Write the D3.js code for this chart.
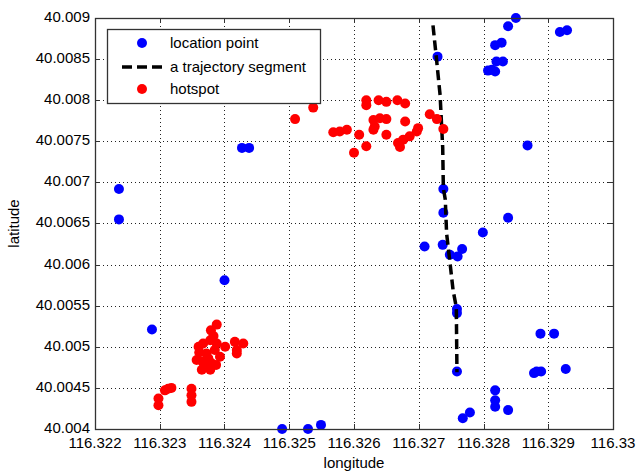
<!DOCTYPE html>
<html>
<head>
<meta charset="utf-8">
<script src="https://cdn.jsdelivr.net/npm/d3@7"></script>
<style>
  body { margin: 0; background: #fff; }
  svg { display: block; font-family: "Liberation Sans", Arial, sans-serif; }
  .tick-label { font-size: 15px; fill: #000; }
  .legend-text { font-size: 15px; fill: #000; }
</style>
</head>
<body>
<div id="container"><svg></svg></div>
<script>
const SVG_WIDTH = 638;
const SVG_HEIGHT = 471;
const margin = {left: 95, top: 18, right: 25, bottom: 42};

const x_ticks = [116.322, 116.323, 116.324, 116.325, 116.326, 116.327, 116.328, 116.329, 116.33];
const y_ticks = [40.004, 40.0045, 40.005, 40.0055, 40.006, 40.0065, 40.007, 40.0075, 40.008, 40.0085, 40.009];

// location points [longitude, latitude]
const location_points = [
    [116.32237, 40.00692], [116.32237, 40.00655], [116.32427, 40.00742], [116.32438, 40.00742],
    [116.324, 40.00581], [116.32288, 40.00521], [116.32489, 40.004], [116.32529, 40.004],
    [116.32549, 40.00405], [116.32768, 40.00413], [116.32779, 40.0042], [116.32818, 40.00447],
    [116.32818, 40.00435], [116.32818, 40.00427], [116.32838, 40.00423], [116.32878, 40.00468],
    [116.32882, 40.0047], [116.32889, 40.0047], [116.32927, 40.00473], [116.32888, 40.00516],
    [116.32909, 40.00516], [116.32759, 40.0047], [116.32759, 40.00546], [116.32759, 40.00541],
    [116.32767, 40.00619], [116.32709, 40.00622], [116.32737, 40.00624], [116.32748, 40.00612],
    [116.3276, 40.0061], [116.32799, 40.00639], [116.32738, 40.00692], [116.32738, 40.00663],
    [116.32838, 40.00657], [116.32868, 40.00745], [116.32729, 40.00853], [116.3285, 40.009],
    [116.32838, 40.0089], [116.32818, 40.00867], [116.32828, 40.0087], [116.3282, 40.00847],
    [116.3283, 40.00847], [116.32813, 40.00837], [116.32818, 40.00835], [116.32807, 40.00836],
    [116.32918, 40.00883], [116.32929, 40.00885]
];

// trajectory segment [longitude, latitude]
const trajectory = [
    [116.32722, 40.00891], [116.32727, 40.00853], [116.32733, 40.00806], [116.32737, 40.00742],
    [116.32738, 40.00693], [116.32741, 40.00679], [116.32743, 40.00638], [116.32749, 40.00597],
    [116.32753, 40.00569], [116.32758, 40.00548], [116.32759, 40.00469]
];

// hotspot points [longitude, latitude]
const hotspots = [
    [116.32388, 40.00527], [116.32379, 40.0052], [116.3236, 40.005], [116.32367, 40.00504],
    [116.32378, 40.00508], [116.32388, 40.00504], [116.32401, 40.005], [116.32357, 40.00484],
    [116.3237, 40.00476], [116.3238, 40.0048], [116.32393, 40.00488], [116.32385, 40.00496],
    [116.32372, 40.00492], [116.32365, 40.00472], [116.32378, 40.00472], [116.32361, 40.00493],
    [116.32383, 40.00513], [116.32375, 40.00486], [116.32387, 40.00478], [116.32366, 40.00482],
    [116.32416, 40.00506], [116.32429, 40.00504], [116.32419, 40.00496], [116.32419, 40.00492],
    [116.32298, 40.00429], [116.32298, 40.00437], [116.32308, 40.00447], [116.32313, 40.00449],
    [116.32318, 40.0045], [116.32349, 40.00449], [116.32349, 40.00441], [116.32349, 40.00433],
    [116.32509, 40.00777], [116.32537, 40.00791], [116.32568, 40.00761], [116.32578, 40.00762],
    [116.32589, 40.00764], [116.32608, 40.00758], [116.326, 40.00736], [116.32619, 40.00744],
    [116.32619, 40.008], [116.32619, 40.00794], [116.32638, 40.008], [116.3265, 40.00798],
    [116.32667, 40.008], [116.32679, 40.00796], [116.3263, 40.00776], [116.3264, 40.00778],
    [116.3265, 40.00777], [116.32632, 40.00768], [116.3263, 40.00764], [116.3265, 40.00758],
    [116.32679, 40.00774], [116.32668, 40.00748], [116.32676, 40.00752], [116.32686, 40.00756],
    [116.32697, 40.00762], [116.32699, 40.00766], [116.32671, 40.00743], [116.32717, 40.00783],
    [116.32728, 40.00777], [116.32738, 40.00765]
];

const legend_items = ['location point', 'a trajectory segment', 'hotspot'];

const BLUE = '#0000ff';
const RED = '#ff0000';
const POINT_R = 5;

function draw_chart() {
    let svg = d3.select('#container').select('svg')
        .attr('width', SVG_WIDTH)
        .attr('height', SVG_HEIGHT);

    let x = d3.scaleLinear()
        .domain([116.322, 116.33])
        .range([margin.left, SVG_WIDTH - margin.right]);
    let y = d3.scaleLinear()
        .domain([40.004, 40.009])
        .range([SVG_HEIGHT - margin.bottom, margin.top]);

    let x0 = x.range()[0], x1 = x.range()[1];
    let y0 = y.range()[0], y1 = y.range()[1];

    // dotted grid
    let grid = svg.append('g').attr('id', 'grid')
        .attr('stroke', '#222')
        .attr('stroke-width', 1)
        .attr('stroke-dasharray', '1,3');
    grid.selectAll('.vgrid').data(x_ticks.slice(1, -1)).enter()
        .append('line')
        .attr('x1', d => Math.round(x(d)) + 0.5).attr('x2', d => Math.round(x(d)) + 0.5)
        .attr('y1', y1).attr('y2', y0);
    grid.selectAll('.hgrid').data(y_ticks.slice(1, -1)).enter()
        .append('line')
        .attr('y1', d => Math.round(y(d)) + 0.5).attr('y2', d => Math.round(y(d)) + 0.5)
        .attr('x1', x0).attr('x2', x1);

    // tick marks on all four sides, pointing inward
    let ticks = svg.append('g').attr('stroke', '#333').attr('stroke-width', 1);
    x_ticks.forEach(d => {
        let px = Math.round(x(d)) + 0.5;
        ticks.append('line').attr('x1', px).attr('x2', px).attr('y1', y0).attr('y2', y0 - 5);
        ticks.append('line').attr('x1', px).attr('x2', px).attr('y1', y1).attr('y2', y1 + 5);
    });
    y_ticks.forEach(d => {
        let py = Math.round(y(d)) + 0.5;
        ticks.append('line').attr('y1', py).attr('y2', py).attr('x1', x0).attr('x2', x0 + 5);
        ticks.append('line').attr('y1', py).attr('y2', py).attr('x1', x1).attr('x2', x1 - 5);
    });

    // tick labels
    svg.append('g').selectAll('text').data(x_ticks).enter()
        .append('text')
        .attr('class', 'tick-label')
        .attr('text-anchor', 'middle')
        .attr('x', d => x(d))
        .attr('y', y0 + 19)
        .text(d => d3.format('')(+d.toFixed(3)));
    svg.append('g').selectAll('text').data(y_ticks).enter()
        .append('text')
        .attr('class', 'tick-label')
        .attr('text-anchor', 'end')
        .attr('dominant-baseline', 'middle')
        .attr('x', x0 - 5)
        .attr('y', d => y(d))
        .text(d => d3.format('')(+d.toFixed(4)));

    // axis titles
    svg.append('text')
        .attr('class', 'tick-label')
        .attr('text-anchor', 'middle')
        .attr('x', (x0 + x1) / 2)
        .attr('y', SVG_HEIGHT - 3)
        .text('longitude');
    svg.append('text')
        .attr('class', 'tick-label')
        .attr('text-anchor', 'middle')
        .attr('transform', `translate(19, ${(y0 + y1) / 2}) rotate(-90)`)
        .text('latitude');

    // data marks
    svg.append('g').selectAll('circle').data(location_points).enter()
        .append('circle')
        .attr('cx', d => x(d[0]))
        .attr('cy', d => y(d[1]))
        .attr('r', POINT_R)
        .attr('fill', BLUE);

    let line = d3.line().x(d => x(d[0])).y(d => y(d[1]));
    svg.append('path')
        .datum(trajectory)
        .attr('d', line)
        .attr('fill', 'none')
        .attr('stroke', '#000')
        .attr('stroke-width', 3.5)
        .attr('stroke-dasharray', '10,5');

    svg.append('g').selectAll('circle').data(hotspots).enter()
        .append('circle')
        .attr('cx', d => x(d[0]))
        .attr('cy', d => y(d[1]))
        .attr('r', POINT_R)
        .attr('fill', RED);

    // axes box
    svg.append('rect')
        .attr('x', x0 + 0.5).attr('y', y1 + 0.5)
        .attr('width', x1 - x0).attr('height', y0 - y1)
        .attr('fill', 'none')
        .attr('stroke', '#333')
        .attr('stroke-width', 1.3);

    // legend
    let legend = svg.append('g').attr('id', 'legend');
    legend.append('rect')
        .attr('x', 107.5).attr('y', 29.5)
        .attr('width', 213).attr('height', 74)
        .attr('fill', '#fff')
        .attr('stroke', '#333')
        .attr('stroke-width', 1.3);
    let row_y = [43, 67, 89];
    legend.append('circle').attr('cx', 142).attr('cy', row_y[0]).attr('r', POINT_R).attr('fill', BLUE);
    legend.append('line')
        .attr('x1', 122).attr('x2', 166).attr('y1', row_y[1]).attr('y2', row_y[1])
        .attr('stroke', '#000').attr('stroke-width', 3.5).attr('stroke-dasharray', '10,5');
    legend.append('circle').attr('cx', 142).attr('cy', row_y[2]).attr('r', POINT_R).attr('fill', RED);
    legend.selectAll('text').data(legend_items).enter()
        .append('text')
        .attr('class', 'legend-text')
        .attr('dominant-baseline', 'middle')
        .attr('x', 170)
        .attr('y', (d, i) => row_y[i] + 1)
        .text(d => d);
}

draw_chart();
</script>
</body>
</html>
